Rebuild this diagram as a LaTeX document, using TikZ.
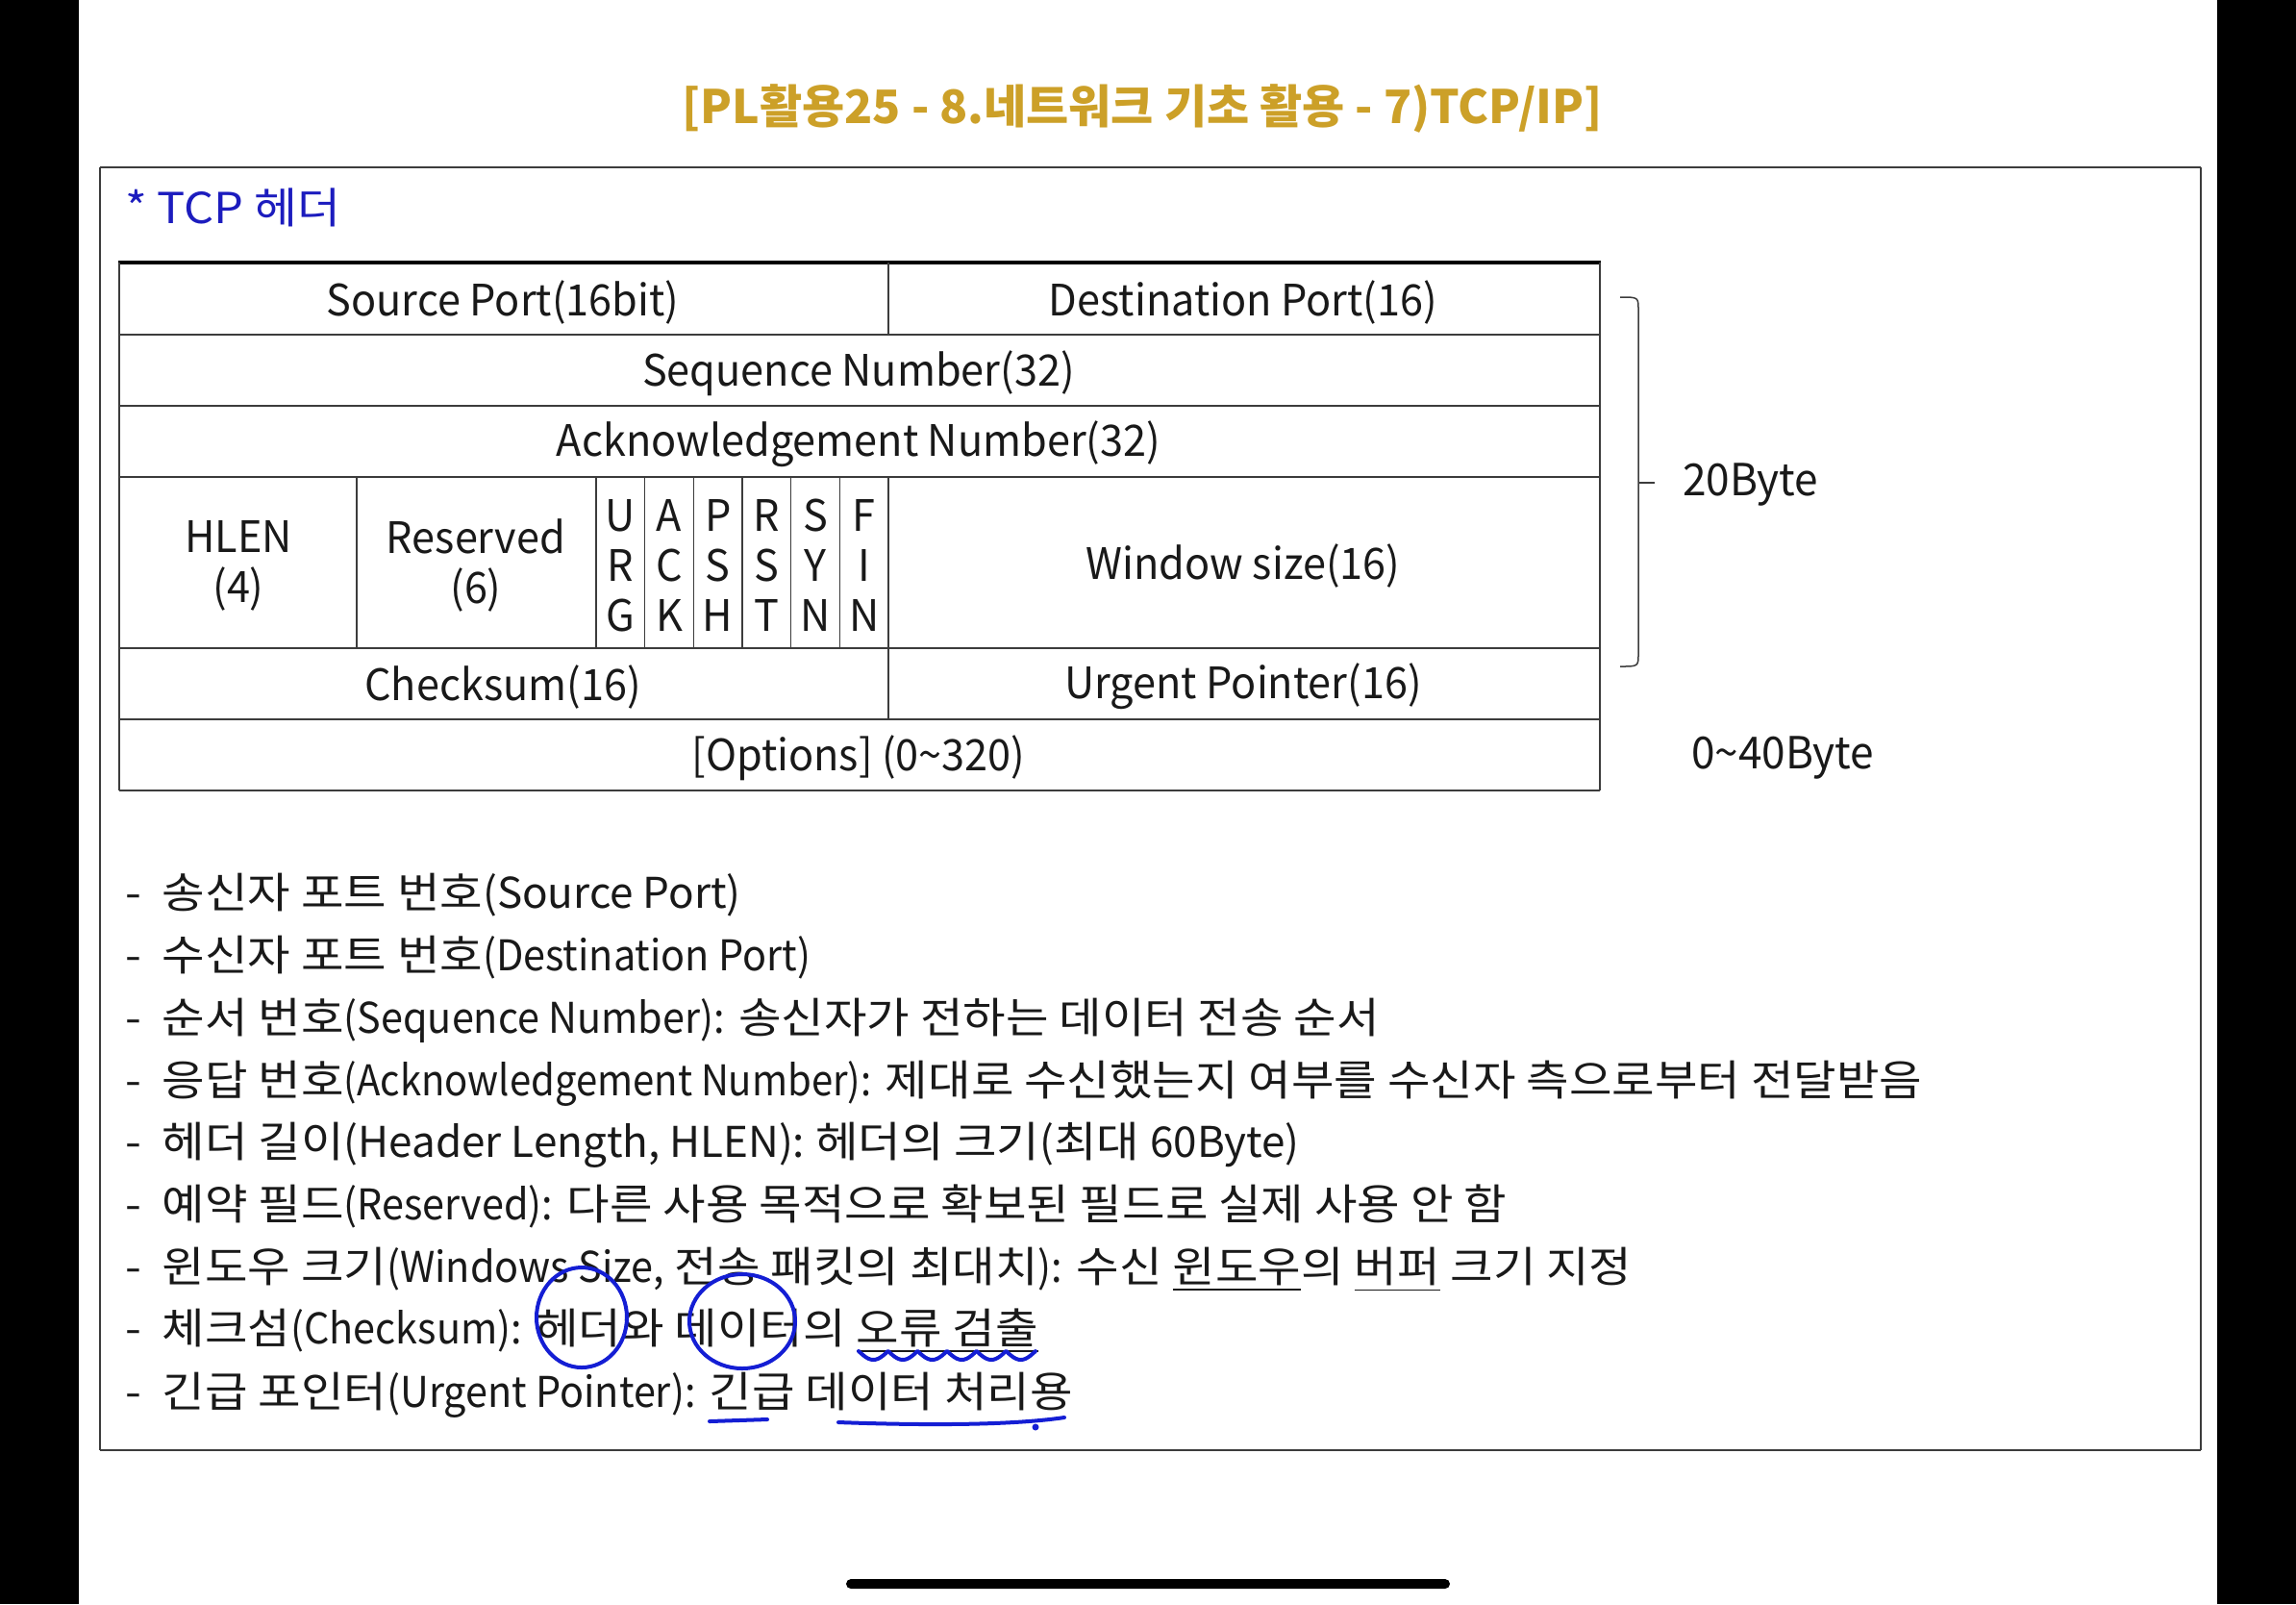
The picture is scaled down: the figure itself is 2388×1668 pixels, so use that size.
\documentclass[tikz,border=0pt]{standalone}
\usepackage{fontspec}
\setmainfont{Noto Sans CJK KR}
\newfontfamily\kr{Noto Sans CJK KR}[WordSpace=1.0, FakeStretch=1.1]
\newfontfamily\lt{Noto Sans CJK KR}[FakeStretch=0.94]
\newfontfamily\ltn{Noto Sans CJK KR}[FakeStretch=0.91]
\newfontfamily\ltw{Noto Sans CJK KR}[FakeStretch=1.0]
\newfontfamily\tb{Noto Sans CJK KR}[FakeStretch=0.96]
\definecolor{titlegold}{RGB}{204,160,40}
\definecolor{headblue}{RGB}{28,28,190}
\definecolor{inkblue}{RGB}{20,30,212}
\definecolor{txt}{RGB}{25,25,25}
\definecolor{rulegray}{RGB}{60,60,60}
\begin{document}
\begin{tikzpicture}[x=0.3pt,y=-0.3pt,
  every node/.style={inner sep=0pt, outer sep=0pt, text=txt},
  cell/.style={font=\tb\fontsize{13.5}{15.6}\selectfont, align=center},
  item/.style={anchor=base west, font=\kr\fontsize{13.2}{15}\selectfont},
  thinrule/.style={draw=rulegray, line width=0.55pt},
  vrule/.style={draw=rulegray, line width=0.45pt},
  ink/.style={draw=inkblue, line width=1.2pt, line cap=round, line join=round}]
\useasboundingbox (0,0) rectangle (2388,1668);
\fill[white] (0,0) rectangle (2388,1668);
% phone side bars and home indicator
\fill[black] (0,0) rectangle (82,1668);
\fill[black] (2306,0) rectangle (2388,1668);
\fill[black, rounded corners=1.5pt] (880,1642) rectangle (1508,1652);

% title
\node[font=\bfseries\fontsize{14.4}{16}\selectfont, text=titlegold] (title) at (1188,113)
  {[PL활용25 - 8.네트워크 기초 활용 - 7)TCP/IP]};

% frame
\draw[draw=rulegray, line width=0.45pt] (104,174) -- (104,1508);
\draw[draw=rulegray, line width=0.45pt] (2289,174) -- (2289,1508);
\draw[draw=rulegray, line width=0.8pt] (104,174) -- (2289,174);
\draw[draw=rulegray, line width=0.8pt] (104,1508) -- (2289,1508);

\node[anchor=west, font=\kr\fontsize{13.3}{15}\selectfont, text=headblue] (head) at (130,216) {* TCP 헤더};

% table rules
\draw[thinrule] (124,348) -- (1664,348);
\draw[thinrule] (124,422) -- (1664,422);
\draw[thinrule] (124,496) -- (1664,496);
\draw[thinrule] (124,674) -- (1664,674);
\draw[thinrule] (124,748) -- (1664,748);
\draw[draw=black, line width=1.2pt] (123,273) -- (1665,273);
\draw[draw=rulegray, line width=0.8pt] (124,822) -- (1664,822);
\draw[draw=rulegray, line width=0.7pt] (124,273) -- (124,822);
\draw[draw=rulegray, line width=0.8pt] (1664,273) -- (1664,822);
\draw[vrule] (924,273) -- (924,348);
\draw[vrule] (371,496) -- (371,674);
\draw[vrule] (620,496) -- (620,674);
\foreach \xx in {670.7,721.3,772,822.7,873.3} \draw[vrule] (\xx,496) -- (\xx,674);
\draw[vrule] (924,496) -- (924,748);

% table texts
\node[cell] (sp) at (523,314) {Source Port(16bit)};
\node[cell] (dp) at (1293,314) {Destination Port(16)};
\node[cell] (seq) at (893,388) {Sequence Number(32)};
\node[cell] (ack) at (893,462) {Acknowledgement Number(32)};
\node[cell] (hlen) at (248,588) {HLEN\\(4)};
\node[cell] (res) at (495,588) {Reserved\\(6)};
\node[cell] (urg) at (645.3,588) {U\\R\\G};
\node[cell] (ackf) at (696,588) {A\\C\\K};
\node[cell] (psh) at (746.7,588) {P\\S\\H};
\node[cell] (rst) at (797.3,588) {R\\S\\T};
\node[cell] (syn) at (848,588) {S\\Y\\N};
\node[cell] (fin) at (898.7,588) {F\\I\\N};
\node[cell] (win) at (1293,588) {Window size(16)};
\node[cell] (chk) at (523,714) {Checksum(16)};
\node[cell] (urp) at (1293,714) {Urgent Pointer(16)};
\node[cell] (opt) at (893,788) {[Options] (0\textasciitilde 320)};

% brace
\draw[draw=rulegray, line width=0.45pt] (1685,309) .. controls (1704,309) .. (1704,322) -- (1704,680) .. controls (1704,693) .. (1685,693);
\draw[draw=rulegray, line width=0.45pt] (1704,502) -- (1721,502);
\node[anchor=west, font=\tb\fontsize{13.8}{15}\selectfont] (b20) at (1750,504) {20Byte};
\node[anchor=west, font=\tb\fontsize{13.8}{15}\selectfont] (b40) at (1759,788) {0\textasciitilde 40Byte};

% list
\node[item] (l1) at (130,944) {-\hspace{0.5em}송신자 포트 번호{\ltw (Source Port)}};
\node[item] (l2) at (130,1009) {-\hspace{0.5em}수신자 포트 번호{\lt (Destination Port)}};
\node[item] (l3) at (130,1074) {-\hspace{0.5em}순서 번호{\lt (Sequence Number):} 송신자가 전하는 데이터 전송 순서};
\node[item] (l4) at (130,1139) {-\hspace{0.5em}응답 번호{\ltn (Acknowledgement Number):} 제대로 수신했는지 여부를 수신자 측으로부터 전달받음};
\node[item] (l5) at (130,1203) {-\hspace{0.5em}헤더 길이{\ltw (Header Length, HLEN):} 헤더의 크기{\ltw (}최대 {\ltw 60Byte)}};
\node[item] (l6) at (130,1268) {-\hspace{0.5em}예약 필드{\lt (Reserved):} 다른 사용 목적으로 확보된 필드로 실제 사용 안 함};
\node[item] (l7) at (130,1333) {-\hspace{0.5em}윈도우 크기{\lt (Windows Size,} 전송 패킷의 최대치{\lt ):} 수신 \underline{윈도우}의 \underline{버퍼} 크기 지정};
\node[item] (l8) at (130,1397) {-\hspace{0.5em}체크섬{\lt (Checksum):} 헤더와 데이터의 \underline{오류 검출}};
\node[item] (l9) at (130,1463) {-\hspace{0.5em}긴급 포인터{\lt (Urgent Pointer):} 긴급 데이터 처리용};

% blue ink annotations
\draw[ink] (605,1370) ellipse [x radius=47, y radius=52];
\draw[ink] (772,1374) ellipse [x radius=55, y radius=49];
\draw[ink] plot[smooth, domain=0:1, samples=73] ({893+184*\x}, {1405+9*abs(sin(6*180*\x))});
\draw[ink] (738,1478) -- (798,1476);
\draw[ink] (872,1479) .. controls (980,1483) and (1060,1481) .. (1107,1474);
\fill[inkblue] (1077,1484) circle [radius=3.5];
\end{tikzpicture}
\end{document}
